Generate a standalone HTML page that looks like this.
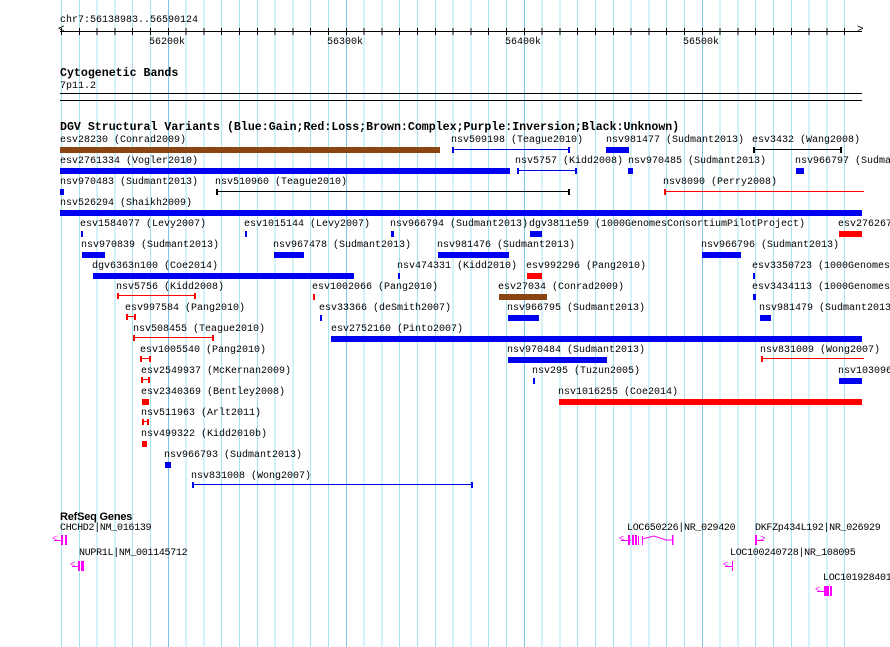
<!DOCTYPE html>
<html><head><meta charset="utf-8">
<style>
html,body{margin:0;padding:0;background:#fff}
body{width:890px;height:647px;position:relative;overflow:hidden;font-family:"Liberation Mono",monospace}
.g{position:absolute;left:61px;top:0;width:801px;height:647px;background:repeating-linear-gradient(to right,#a8e4f0 0 1px,transparent 1px 17.8px)}
.m{position:absolute;top:0;width:1px;height:647px;background:#7fc4ea}
.t{position:absolute;font-size:10px;line-height:11px;white-space:nowrap;color:#000}
.h{position:absolute;font-size:11.6px;font-weight:bold;line-height:12px;white-space:nowrap}
.b{position:absolute;height:6px}
.l{position:absolute;height:6px;box-sizing:border-box;border-left:2px solid;border-right:2px solid}
.l::after{content:"";position:absolute;left:0;right:0;top:2px;height:1px;background:currentColor}
.bl{background:#0000f0}.rd{background:#f00}.br{background:#8b4513}
.cb{color:#0000f0}.cr{color:#f00}.ck{color:#000}
.k{position:absolute;background:#000}
.p{position:absolute;background:#f0f}
.gt{position:absolute;font-size:10px;line-height:11px;white-space:nowrap;letter-spacing:-0.3px}
</style></head><body>
<div class="g"></div>
<div class="m" style="left:168px"></div><div class="m" style="left:346px"></div><div class="m" style="left:524px"></div><div class="m" style="left:702px"></div>
<div style="position:absolute;left:862px;top:0;width:28px;height:647px;background:#fff"></div>

<!-- ruler -->
<div class="t" style="left:60px;top:15px">chr7:56138983..56590124</div>
<div class="k" style="left:60px;top:31px;width:802px;height:1px"></div>
<div style="position:absolute;left:61px;top:28px;width:801px;height:7px;background:repeating-linear-gradient(to right,#000 0 1px,transparent 1px 17.8px)"></div>
<div class="t" style="left:58px;top:25px;font-size:11px">&lt;</div>
<div class="t" style="left:857px;top:25px;font-size:11px">&gt;</div>
<div class="t" style="left:149px;top:37px">56200k</div>
<div class="t" style="left:327px;top:37px">56300k</div>
<div class="t" style="left:505px;top:37px">56400k</div>
<div class="t" style="left:683px;top:37px">56500k</div>

<div class="h" style="left:60px;top:68px">Cytogenetic Bands</div>
<div class="t" style="left:60px;top:81px">7p11.2</div>
<div class="k" style="left:60px;top:93px;width:802px;height:1px"></div>
<div class="k" style="left:60px;top:100px;width:802px;height:1px"></div>

<div class="h" style="left:60px;top:122px">DGV Structural Variants (Blue:Gain;Red:Loss;Brown:Complex;Purple:Inversion;Black:Unknown)</div>

<!-- row1 147 -->
<div class="t" style="left:60px;top:135px">esv28230 (Conrad2009)</div><div class="b br" style="left:60px;top:147px;width:380px"></div>
<div class="t" style="left:451px;top:135px">nsv509198 (Teague2010)</div><div class="l cb" style="left:452px;top:147px;width:118px"></div>
<div class="t" style="left:606px;top:135px">nsv981477 (Sudmant2013)</div><div class="b bl" style="left:606px;top:147px;width:23px"></div>
<div class="t" style="left:752px;top:135px">esv3432 (Wang2008)</div><div class="l ck" style="left:753px;top:147px;width:89px"></div>
<!-- row2 168 -->
<div class="t" style="left:60px;top:156px">esv2761334 (Vogler2010)</div><div class="b bl" style="left:60px;top:168px;width:450px"></div>
<div class="t" style="left:515px;top:156px">nsv5757 (Kidd2008)</div><div class="l cb" style="left:517px;top:168px;width:60px"></div>
<div class="t" style="left:628px;top:156px">nsv970485 (Sudmant2013)</div><div class="b bl" style="left:628px;top:168px;width:5px"></div>
<div class="t" style="left:795px;top:156px">nsv966797 (Sudmant2013)</div><div class="b bl" style="left:796px;top:168px;width:8px"></div>
<!-- row3 189 -->
<div class="t" style="left:60px;top:177px">nsv970483 (Sudmant2013)</div><div class="b bl" style="left:60px;top:189px;width:4px"></div>
<div class="t" style="left:215px;top:177px">nsv510960 (Teague2010)</div><div class="l ck" style="left:216px;top:189px;width:354px"></div>
<div class="t" style="left:663px;top:177px">nsv8090 (Perry2008)</div><div class="l cr" style="left:664px;top:189px;width:200px;border-right:0"></div>
<!-- row4 210 -->
<div class="t" style="left:60px;top:198px">nsv526294 (Shaikh2009)</div><div class="b bl" style="left:60px;top:210px;width:802px"></div>
<!-- row5 231 -->
<div class="t" style="left:80px;top:219px">esv1584077 (Levy2007)</div><div class="b bl" style="left:81px;top:231px;width:2px"></div>
<div class="t" style="left:244px;top:219px">esv1015144 (Levy2007)</div><div class="b bl" style="left:245px;top:231px;width:2px"></div>
<div class="t" style="left:390px;top:219px">nsv966794 (Sudmant2013)</div><div class="b bl" style="left:391px;top:231px;width:3px"></div>
<div class="t" style="left:529px;top:219px">dgv3811e59 (1000GenomesConsortiumPilotProject)</div><div class="b bl" style="left:530px;top:231px;width:12px"></div>
<div class="t" style="left:838px;top:219px">esv2762675</div><div class="b rd" style="left:839px;top:231px;width:23px"></div>
<!-- row6 252 -->
<div class="t" style="left:81px;top:240px">nsv970839 (Sudmant2013)</div><div class="b bl" style="left:82px;top:252px;width:23px"></div>
<div class="t" style="left:273px;top:240px">nsv967478 (Sudmant2013)</div><div class="b bl" style="left:274px;top:252px;width:30px"></div>
<div class="t" style="left:437px;top:240px">nsv981476 (Sudmant2013)</div><div class="b bl" style="left:438px;top:252px;width:71px"></div>
<div class="t" style="left:701px;top:240px">nsv966796 (Sudmant2013)</div><div class="b bl" style="left:702px;top:252px;width:39px"></div>
<!-- row7 273 -->
<div class="t" style="left:92px;top:261px">dgv6363n100 (Coe2014)</div><div class="b bl" style="left:93px;top:273px;width:261px"></div>
<div class="t" style="left:397px;top:261px">nsv474331 (Kidd2010)</div><div class="b bl" style="left:398px;top:273px;width:2px"></div>
<div class="t" style="left:526px;top:261px">esv992296 (Pang2010)</div><div class="b rd" style="left:527px;top:273px;width:15px"></div>
<div class="t" style="left:752px;top:261px">esv3350723 (1000Genomes</div><div class="b bl" style="left:753px;top:273px;width:2px"></div>
<!-- row8 294 -->
<div class="t" style="left:116px;top:282px">nsv5756 (Kidd2008)</div><div class="l cr" style="left:117px;top:293px;width:79px"></div>
<div class="t" style="left:312px;top:282px">esv1002066 (Pang2010)</div><div class="b rd" style="left:313px;top:294px;width:2px"></div>
<div class="t" style="left:498px;top:282px">esv27034 (Conrad2009)</div><div class="b br" style="left:499px;top:294px;width:48px"></div>
<div class="t" style="left:752px;top:282px">esv3434113 (1000Genomes</div><div class="b bl" style="left:753px;top:294px;width:3px"></div>
<!-- row9 315 -->
<div class="t" style="left:125px;top:303px">esv997584 (Pang2010)</div><div class="l cr" style="left:126px;top:314px;width:10px"></div>
<div class="t" style="left:319px;top:303px">esv33366 (deSmith2007)</div><div class="b bl" style="left:320px;top:315px;width:2px"></div>
<div class="t" style="left:507px;top:303px">nsv966795 (Sudmant2013)</div><div class="b bl" style="left:508px;top:315px;width:31px"></div>
<div class="t" style="left:759px;top:303px">nsv981479 (Sudmant2013)</div><div class="b bl" style="left:760px;top:315px;width:11px"></div>
<!-- row10 336 -->
<div class="t" style="left:133px;top:324px">nsv508455 (Teague2010)</div><div class="l cr" style="left:133px;top:335px;width:81px"></div>
<div class="t" style="left:331px;top:324px">esv2752160 (Pinto2007)</div><div class="b bl" style="left:331px;top:336px;width:531px"></div>
<!-- row11 357 -->
<div class="t" style="left:140px;top:345px">esv1005540 (Pang2010)</div><div class="l cr" style="left:140px;top:356px;width:11px"></div>
<div class="t" style="left:507px;top:345px">nsv970484 (Sudmant2013)</div><div class="b bl" style="left:508px;top:357px;width:99px"></div>
<div class="t" style="left:760px;top:345px">nsv831009 (Wong2007)</div><div class="l cr" style="left:761px;top:356px;width:103px;border-right:0"></div>
<!-- row12 378 -->
<div class="t" style="left:141px;top:366px">esv2549937 (McKernan2009)</div><div class="l cr" style="left:141px;top:377px;width:9px"></div>
<div class="t" style="left:532px;top:366px">nsv295 (Tuzun2005)</div><div class="b bl" style="left:533px;top:378px;width:2px"></div>
<div class="t" style="left:838px;top:366px">nsv1030966</div><div class="b bl" style="left:839px;top:378px;width:23px"></div>
<!-- row13 399 -->
<div class="t" style="left:141px;top:387px">esv2340369 (Bentley2008)</div><div class="b rd" style="left:142px;top:399px;width:7px"></div>
<div class="t" style="left:558px;top:387px">nsv1016255 (Coe2014)</div><div class="b rd" style="left:559px;top:399px;width:303px"></div>
<!-- row14 420 -->
<div class="t" style="left:141px;top:408px">nsv511963 (Arlt2011)</div><div class="l cr" style="left:142px;top:419px;width:7px"></div>
<!-- row15 441 -->
<div class="t" style="left:141px;top:429px">nsv499322 (Kidd2010b)</div><div class="b rd" style="left:142px;top:441px;width:5px"></div>
<!-- row16 462 -->
<div class="t" style="left:164px;top:450px">nsv966793 (Sudmant2013)</div><div class="b bl" style="left:165px;top:462px;width:6px"></div>
<!-- row17 -->
<div class="t" style="left:191px;top:471px">nsv831008 (Wong2007)</div><div class="l cb" style="left:192px;top:482px;width:281px"></div>

<!-- RefSeq -->
<div class="h" style="left:60px;top:511px;font-family:'Liberation Sans',sans-serif;font-size:11px;letter-spacing:-0.2px">RefSeq Genes</div>
<div class="gt" style="left:60px;top:523px">CHCHD2|NM_016139</div>
<div class="p" style="left:54px;top:540px;width:8px;height:1px"></div>
<div class="p" style="left:61px;top:535px;width:2px;height:10px"></div><div class="p" style="left:65px;top:535px;width:2px;height:10px"></div>
<div class="t" style="left:52px;top:534px;color:#f0f;font-size:9px">&lt;</div>
<div class="gt" style="left:79px;top:548px">NUPR1L|NM_001145712</div>
<div class="p" style="left:72px;top:566px;width:8px;height:1px"></div>
<div class="p" style="left:78px;top:561px;width:2px;height:10px"></div><div class="p" style="left:81px;top:561px;width:3px;height:10px"></div>
<div class="t" style="left:70px;top:560px;color:#f0f;font-size:9px">&lt;</div>

<div class="gt" style="left:627px;top:523px">LOC650226|NR_029420</div>
<div class="p" style="left:621px;top:540px;width:10px;height:1px"></div>
<div class="t" style="left:619px;top:534px;color:#f0f;font-size:9px">&lt;</div>
<div class="p" style="left:628px;top:535px;width:2px;height:10px"></div><div class="p" style="left:632px;top:535px;width:2px;height:10px"></div><div class="p" style="left:635px;top:535px;width:2px;height:10px"></div><div class="p" style="left:638px;top:536px;width:1px;height:9px"></div><div class="p" style="left:642px;top:536px;width:1px;height:9px"></div>
<svg style="position:absolute;left:640px;top:534px" width="35" height="12"><polyline points="2,5 14,2 26,6" fill="none" stroke="#f0f" stroke-width="1"/><rect x="32" y="1" width="1.5" height="10" fill="#f0f"/><line x1="26" y1="6" x2="32" y2="6" stroke="#f0f"/></svg>
<div class="gt" style="left:755px;top:523px">DKFZp434L192|NR_026929</div>
<div class="p" style="left:755px;top:535px;width:2px;height:10px"></div><div class="p" style="left:755px;top:540px;width:9px;height:1px"></div>
<div class="t" style="left:760px;top:534px;color:#f0f;font-size:9px">&gt;</div>
<div class="gt" style="left:730px;top:548px">LOC100240728|NR_108095</div>
<div class="p" style="left:725px;top:566px;width:8px;height:1px"></div><div class="p" style="left:732px;top:561px;width:1px;height:10px"></div>
<div class="t" style="left:723px;top:560px;color:#f0f;font-size:9px">&lt;</div>
<div class="gt" style="left:823px;top:573px">LOC101928401</div>
<div class="p" style="left:817px;top:591px;width:8px;height:1px"></div><div class="p" style="left:824px;top:586px;width:5px;height:10px"></div><div class="p" style="left:830px;top:586px;width:2px;height:10px"></div>
<div class="t" style="left:815px;top:585px;color:#f0f;font-size:9px">&lt;</div>
</body></html>
